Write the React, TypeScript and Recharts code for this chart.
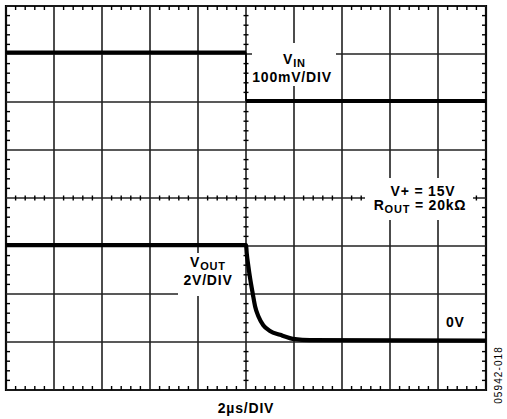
import {
  ComposedChart,
  Line,
  Scatter,
  XAxis,
  YAxis,
  ReferenceArea,
  ReferenceLine,
} from "recharts";

// x in µs (2µs/DIV, 10 divisions), y in screen divisions (8 divisions)
const timeTicks = [0, 2, 4, 6, 8, 10, 12, 14, 16, 18, 20];
const divTicks = [0, 1, 2, 3, 4, 5, 6, 7, 8];

const vinHigh = [
  { t: 0, v: 7.03 },
  { t: 10, v: 7.03 },
];
const vinEdge = [
  { t: 10, v: 7.03 },
  { t: 10, v: 6.02 },
];
const vinLow = [
  { t: 10, v: 6.02 },
  { t: 20, v: 6.02 },
];

const voutTrace = [
  { t: 0, v: 3.02 },
  { t: 10, v: 3.02 },
  { t: 10.03, v: 2.85 },
  { t: 10.1, v: 2.57 },
  { t: 10.17, v: 2.33 },
  { t: 10.28, v: 2.01 },
  { t: 10.38, v: 1.74 },
  { t: 10.52, v: 1.53 },
  { t: 10.72, v: 1.35 },
  { t: 11.0, v: 1.23 },
  { t: 11.42, v: 1.15 },
  { t: 12.04, v: 1.06 },
  { t: 12.66, v: 1.04 },
  { t: 20, v: 1.03 },
];

// minor graticule marks, 5 per division
const minorT = Array.from({ length: 51 }, (_, i) => i).filter((i) => i % 5 !== 0).map((i) => i * 0.4);
const minorV = Array.from({ length: 41 }, (_, i) => i).filter((i) => i % 5 !== 0).map((i) => i * 0.2);

const topTicks = minorT.map((t) => ({ t, v: 8 }));
const bottomTicks = minorT.map((t) => ({ t, v: 0 }));
const leftTicks = minorV.map((v) => ({ t: 0, v }));
const rightTicks = minorV.map((v) => ({ t: 20, v }));
const centerHTicks = minorT.map((t) => ({ t, v: 4 }));
const centerVTicks = minorV.map((v) => ({ t: 10, v }));

const FONT = '"Liberation Sans", Arial, Helvetica, sans-serif';
const INK = "#000";

const tickShape = (dx1: number, dy1: number, dx2: number, dy2: number) => (p: any) =>
  (
    <line
      x1={p.cx + dx1}
      y1={p.cy + dy1}
      x2={p.cx + dx2}
      y2={p.cy + dy2}
      stroke={INK}
      strokeWidth={1.4}
    />
  );

function Annotations() {
  const label = {
    fontFamily: FONT,
    fontWeight: 700,
    fontSize: 14,
    letterSpacing: 0.8,
    fill: INK,
  } as const;
  return (
    <svg
      width={507}
      height={419}
      style={{ position: "absolute", left: 0, top: 0, pointerEvents: "none" }}
    >
      <rect x={252} y={43} width={84} height={43} fill="#fff" />
      <rect x={365} y={178} width={108} height={42} fill="#fff" />
      <rect x={178} y={253} width={62} height={43} fill="#fff" />

      <text x={283} y={64} {...label}>
        V<tspan fontSize={11} dy={3}>IN</tspan>
      </text>
      <text x={292} y={82} textAnchor="middle" {...label}>
        100mV/DIV
      </text>

      <text x={423} y={196} textAnchor="middle" {...label}>
        V+ = 15V
      </text>
      <text x={420} y={210} textAnchor="middle" {...label}>
        R<tspan fontSize={11} dy={3}>OUT</tspan>
        <tspan dy={-3}> = 20kΩ</tspan>
      </text>

      <text x={190} y={267} {...label}>
        V<tspan fontSize={11} dy={3}>OUT</tspan>
      </text>
      <text x={208} y={285} textAnchor="middle" {...label}>
        2V/DIV
      </text>

      <text x={446} y={327} {...label}>
        0V
      </text>

      <text x={246} y={413} textAnchor="middle" {...label}>
        2µs/DIV
      </text>

      <text
        x={0}
        y={0}
        transform="translate(502 375) rotate(-90)"
        textAnchor="middle"
        fontFamily={FONT}
        fontSize={10}
        letterSpacing={1.1}
        fill={INK}
      >
        05942-018
      </text>
    </svg>
  );
}

export default function App() {
  return (
    <div style={{ position: "absolute", left: 0, top: 0, width: 507, height: 419, background: "#fff" }}>
      <ComposedChart width={507} height={419} margin={{ top: 6, right: 21, bottom: 29, left: 6 }}>
        <XAxis
          dataKey="t"
          type="number"
          domain={[0, 20]}
          ticks={timeTicks}
          tick={false}
          tickLine={false}
          axisLine={false}
          height={0}
          allowDataOverflow
        />
        <YAxis
          type="number"
          domain={[0, 8]}
          ticks={divTicks}
          tick={false}
          tickLine={false}
          axisLine={false}
          width={0}
          allowDataOverflow
        />
        {timeTicks.map((t) => (
          <ReferenceLine key={`gx${t}`} x={t} stroke="#111" strokeWidth={1.5} />
        ))}
        {divTicks.map((v) => (
          <ReferenceLine key={`gy${v}`} y={v} stroke="#222" strokeWidth={1.5} />
        ))}
        <ReferenceArea x1={0} x2={20} y1={0} y2={8} fill="none" fillOpacity={0} stroke={INK} strokeWidth={2.2} />

        <Scatter data={topTicks} dataKey="v" shape={tickShape(0, 0, 0, 4)} isAnimationActive={false} />
        <Scatter data={bottomTicks} dataKey="v" shape={tickShape(0, 0, 0, -4)} isAnimationActive={false} />
        <Scatter data={leftTicks} dataKey="v" shape={tickShape(0, 0, 4, 0)} isAnimationActive={false} />
        <Scatter data={rightTicks} dataKey="v" shape={tickShape(0, 0, -4, 0)} isAnimationActive={false} />
        <Scatter data={centerHTicks} dataKey="v" shape={tickShape(0, -2.5, 0, 2.5)} isAnimationActive={false} />
        <Scatter data={centerVTicks} dataKey="v" shape={tickShape(-2.5, 0, 2.5, 0)} isAnimationActive={false} />

        <Line data={vinHigh} dataKey="v" type="linear" stroke={INK} strokeWidth={4} dot={false} isAnimationActive={false} />
        <Line data={vinEdge} dataKey="v" type="linear" stroke={INK} strokeWidth={1.6} dot={false} isAnimationActive={false} />
        <Line data={vinLow} dataKey="v" type="linear" stroke={INK} strokeWidth={4} dot={false} isAnimationActive={false} />
        <Line data={voutTrace} dataKey="v" type="monotone" stroke={INK} strokeWidth={4.2} dot={false} isAnimationActive={false} />
      </ComposedChart>
      <Annotations />
    </div>
  );
}
